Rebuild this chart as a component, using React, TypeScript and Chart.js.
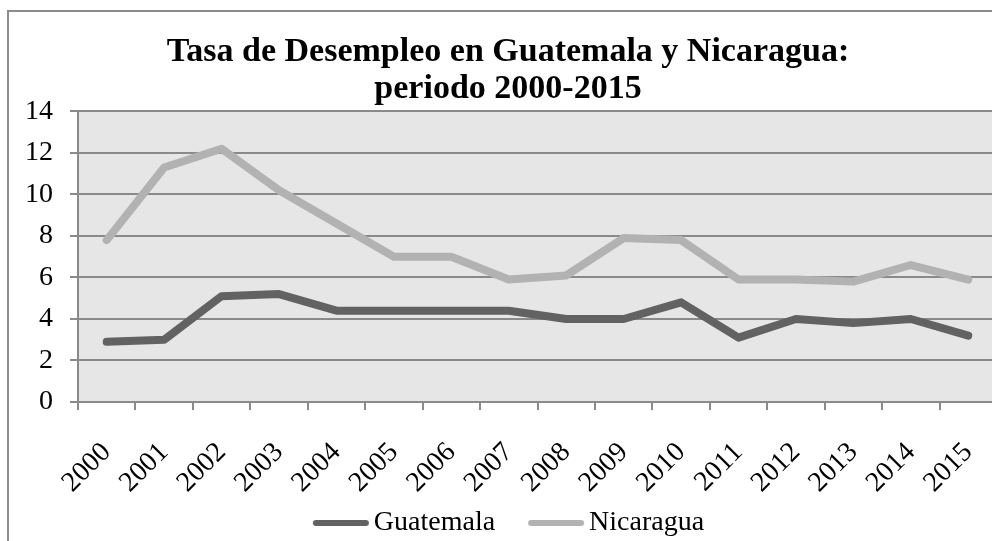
import React, { useEffect, useRef } from "react";
import { Chart, registerables } from "chart.js";

Chart.register(...registerables);

const years = ["2000", "2001", "2002", "2003", "2004", "2005", "2006", "2007", "2008", "2009", "2010", "2011", "2012", "2013", "2014", "2015"];
const guatemala = [2.9, 3.0, 5.1, 5.2, 4.4, 4.4, 4.4, 4.4, 4.0, 4.0, 4.8, 3.1, 4.0, 3.8, 4.0, 3.2];
const nicaragua = [7.8, 11.3, 12.2, 10.2, 8.6, 7.0, 7.0, 5.9, 6.1, 7.9, 7.8, 5.9, 5.9, 5.8, 6.6, 5.9];
const seriesNames = ["Guatemala", "Nicaragua"];
const seriesColors = ["#626262", "#b2b2b2"];
const titleLines = ["Tasa de Desempleo en Guatemala y Nicaragua:", "periodo 2000-2015"];
const yMin = 0;
const yMax = 14;
const yStep = 2;

const FONT = "'Liberation Serif', 'Times New Roman', serif";
const GRID = "#8a8a8a";

const plotBg = {
  id: "plotBg",
  afterLayout(chart: any) {
    // let rotated x labels extend below the axis box without being clipped
    if (chart.scales.x) chart.scales.x.bottom += 30;
  },
  beforeDraw(chart: any) {
    const { ctx, chartArea } = chart;
    if (!chartArea) return;
    ctx.save();
    ctx.fillStyle = "#e6e6e6";
    ctx.fillRect(chartArea.left, chartArea.top, chartArea.right - chartArea.left, chartArea.bottom - chartArea.top);
    ctx.restore();
  },
};

function makeSwatch(color: string): HTMLCanvasElement {
  const c = document.createElement("canvas");
  c.width = 68;
  c.height = 10;
  const g = c.getContext("2d")!;
  g.strokeStyle = color;
  g.lineWidth = 6;
  g.lineCap = "round";
  g.beginPath();
  g.moveTo(14, 5);
  g.lineTo(64, 5);
  g.stroke();
  return c;
}

export default function App() {
  const ref = useRef<HTMLCanvasElement | null>(null);

  useEffect(() => {
    if (!ref.current) return;
    const swatches = seriesColors.map(makeSwatch);
    const chart = new Chart(ref.current, {
      type: "line",
      data: {
        labels: years,
        datasets: [
          {
            label: seriesNames[0],
            data: guatemala,
            borderColor: seriesColors[0],
            backgroundColor: seriesColors[0],
            borderWidth: 8,
            borderCapStyle: "round",
            borderJoinStyle: "round",
            pointRadius: 0,
            pointHoverRadius: 0,
            tension: 0,
          },
          {
            label: seriesNames[1],
            data: nicaragua,
            borderColor: seriesColors[1],
            backgroundColor: seriesColors[1],
            borderWidth: 8,
            borderCapStyle: "round",
            borderJoinStyle: "round",
            pointRadius: 0,
            pointHoverRadius: 0,
            tension: 0,
          },
        ],
      },
      options: {
        responsive: false,
        animation: false,
        devicePixelRatio: 1,
        layout: { padding: { top: 0, left: 10, right: 12, bottom: 0 } },
        plugins: {
          tooltip: { enabled: false },
          title: {
            display: true,
            text: titleLines,
            color: "#000",
            font: { family: FONT, size: 34, weight: "bold", lineHeight: 1.08 },
            padding: { top: 22, bottom: 4 },
          },
          legend: {
            display: true,
            position: "bottom",
            labels: {
              color: "#000",
              font: { family: FONT, size: 28 },
              usePointStyle: true,
              pointStyleWidth: 48,
              padding: 32,
              generateLabels(chart: any) {
                const items = (Chart as any).defaults.plugins.legend.labels.generateLabels(chart);
                return items.map((it: any, i: number) => ({ ...it, pointStyle: swatches[i] }));
              },
            },
          },
        },
        scales: {
          x: {
            type: "category",
            offset: true,
            afterFit(scale: any) {
              scale.height = 75;
              scale.paddingLeft = 0;
              scale.paddingRight = 0;
            },
            grid: {
              offset: true,
              drawOnChartArea: false,
              drawTicks: true,
              tickLength: 8,
              color: GRID,
              lineWidth: 2,
            },
            border: { display: true, color: GRID, width: 2 },
            ticks: {
              color: "#000",
              font: { family: FONT, size: 28 },
              minRotation: 45,
              maxRotation: 45,
              autoSkip: false,
              padding: 26,
            },
          },
          y: {
            min: yMin,
            max: yMax,
            afterFit(scale: any) {
              scale.width = 59;
            },
            grid: {
              color: GRID,
              lineWidth: 2,
              drawTicks: true,
              tickLength: 8,
            },
            border: { display: true, color: GRID, width: 2 },
            ticks: {
              stepSize: yStep,
              color: "#000",
              font: { family: FONT, size: 28 },
              padding: 17,
            },
          },
        },
      },
      plugins: [plotBg],
    } as any);
    return () => chart.destroy();
  }, []);

  return (
    <div
      style={{
        position: "absolute",
        left: 7,
        top: 10,
        width: 985,
        height: 531,
        overflow: "hidden",
        borderLeft: "2px solid #8c8c8c",
        borderTop: "2px solid #8c8c8c",
        boxSizing: "border-box",
        background: "#fff",
      }}
    >
      <canvas ref={ref} width={1000} height={535} style={{ display: "block", width: 1000, height: 535 }} />
    </div>
  );
}
